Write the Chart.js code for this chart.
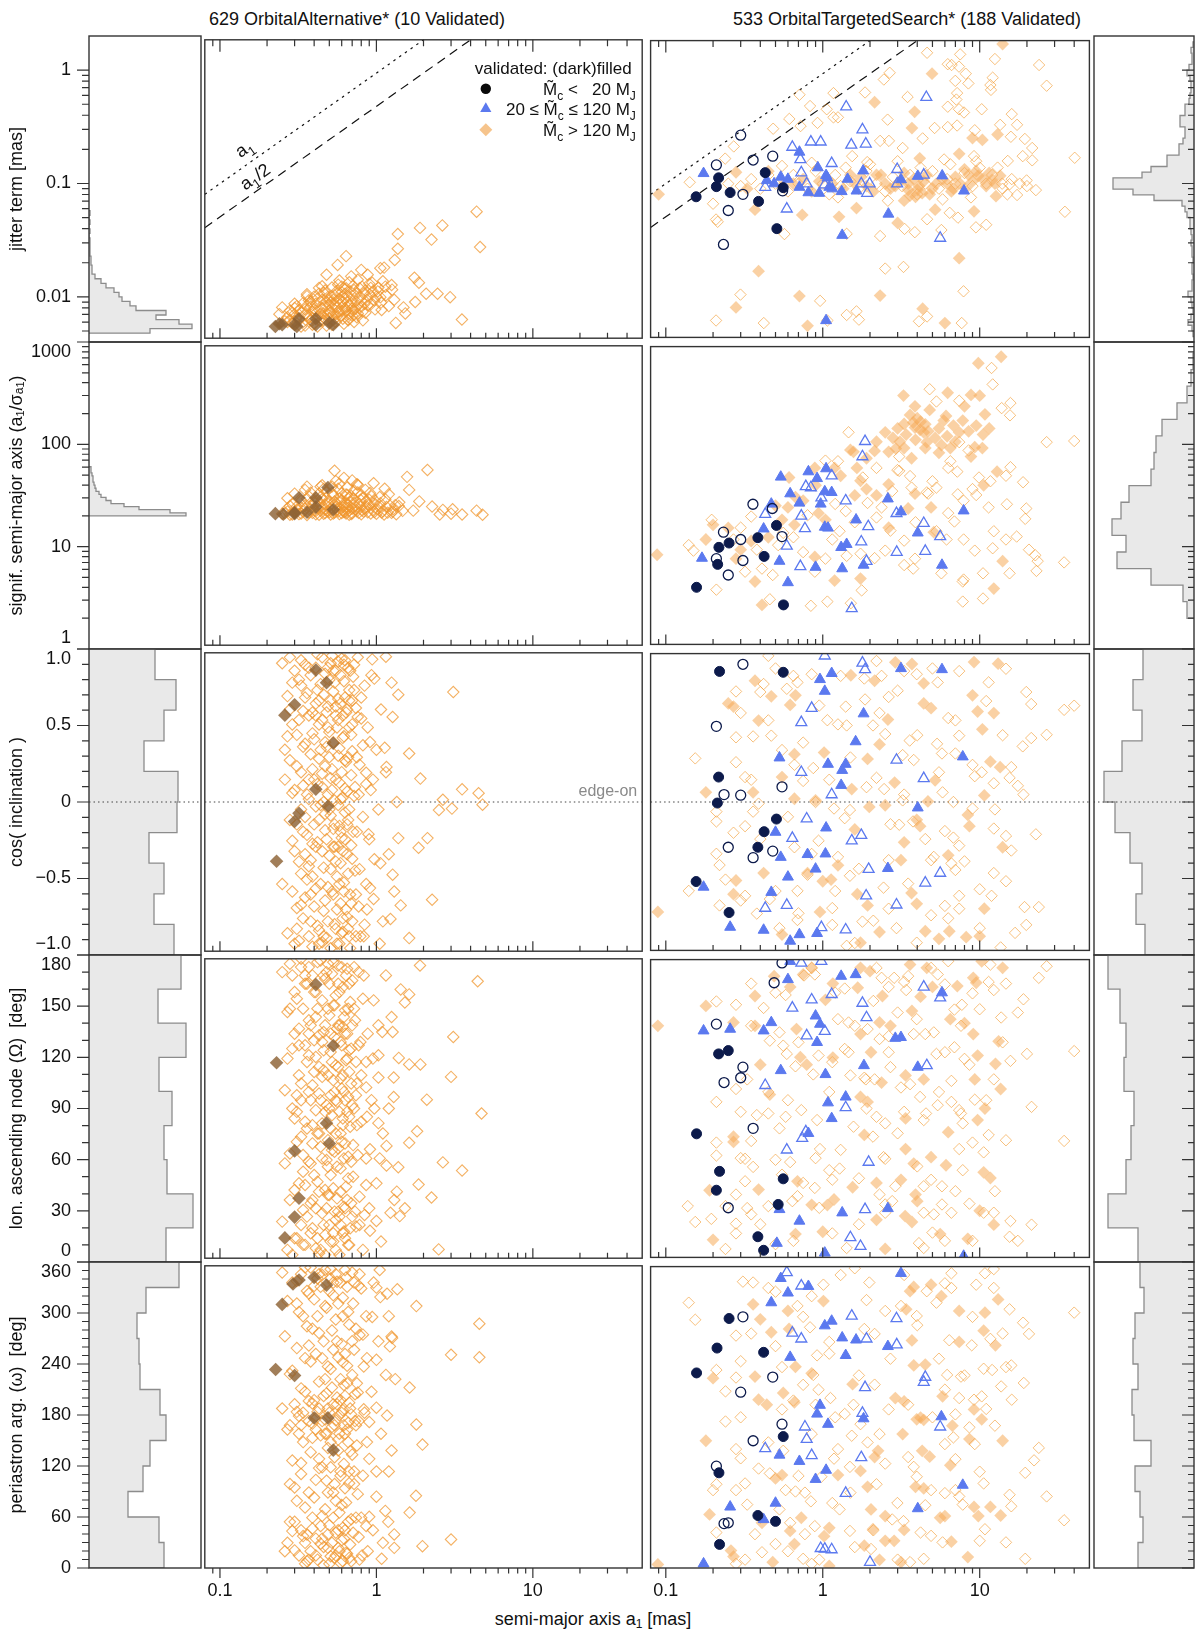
<!DOCTYPE html>
<html><head><meta charset="utf-8">
<script src="https://cdn.jsdelivr.net/npm/chart.js"></script>
<style>
html,body{margin:0;padding:0;background:#fff;}
body{position:relative;width:1200px;height:1640px;overflow:hidden;font-family:"Liberation Sans",Arial,Helvetica,sans-serif;color:#111;}
canvas{position:absolute;}
.ttl{position:absolute;font-size:18px;line-height:20px;white-space:nowrap;transform:translateX(-50%);}
.ttl sub{font-size:12px;vertical-align:-3px;line-height:0;}
</style></head><body>
<div class="ttl" style="left:357px;top:9px">629 OrbitalAlternative* (10 Validated)</div>
<div class="ttl" style="left:907px;top:9px">533 OrbitalTargetedSearch* (188 Validated)</div>
<div class="ttl" style="left:593px;top:1609px">semi-major axis a<sub>1</sub> [mas]</div>
<script>
const FONT = '"Liberation Sans", Arial, Helvetica, sans-serif';
// ---------------- tick labels ----------------
const xTickVals = [0.1, 1, 10];
const xTickLabels = ['0.1', '1', '10'];
const jitTickVals = [0.01, 0.1, 1];
const jitTickLabels = ['0.01', '0.1', '1'];
const sigTickVals = [1, 10, 100, 1000];
const sigTickLabels = ['1', '10', '100', '1000'];
const cosTickVals = [-1, -0.5, 0, 0.5, 1];
const cosTickLabels = ['\u22121.0', '\u22120.5', '0', '0.5', '1.0'];
const OmTickVals = [0, 30, 60, 90, 120, 150, 180];
const OmTickLabels = ['0', '30', '60', '90', '120', '150', '180'];
const omTickVals = [0, 60, 120, 180, 240, 300, 360];
const omTickLabels = ['0', '60', '120', '180', '240', '300', '360'];

// ---------------- histograms (counts per bin, bottom to top) ----------------
const hL1 = [61,103,90,67,77,47,41,33,30,25,17,12,6,3,3,2,2,1,1,1,1,0,1,0,1,0,1];
const binL1 = [-2.32, 0.04];
const hR1 = [1,2,6,3,1,2,3,6,2,2,1,2,2,1,2,2,3,2,3,4,4,7,9,12,40,61,81,81,52,43,27,27,15,15,11,9,9,14,14,9,9,5,4,3,3,4,7,5,2,2,3,1];
const binR1 = [-2.35, 0.05];
const hL2 = [97,81,50,35,22,17,12,10,7,6,5,4,4,3,2,2];
const binL2 = [1.301, 0.03];
const hR2 = [7,11,43,77,68,82,73,65,43,40,38,32,17,7,3,1];
const binR2 = [0.3, 0.162];
const hL3 = [85,65,75,60,88,89,55,75,87,66];
const hR3 = [49,58,52,64,79,90,72,52,61,51];
const bin3 = [-1, 0.2];
const hL4 = [77,104,78,75,83,70,97,69,92];
const hR4 = [56,86,68,63,60,70,68,74,86];
const bin4 = [0, 20];
const hL5 = [75,70,39,54,61,77,71,51,50,48,57,90];
const hR5 = [56,51,54,59,43,60,62,56,61,59,50,54];
const bin5 = [0, 30];

// ---------------- row 1: jitter ----------------
const L1_core = [[0.27,0.0062],[0.28,0.0071],[0.29,0.0055],[0.3,0.0066],[0.31,0.0078],[0.32,0.0059],[0.33,0.0069],[0.34,0.0083],[0.35,0.0052],[0.35,0.0073],[0.36,0.0064],[0.37,0.0088],[0.38,0.0058],[0.38,0.0077],[0.39,0.0069],[0.4,0.0095],[0.4,0.0054],[0.41,0.0082],[0.42,0.0063],[0.43,0.0101],[0.43,0.0072],[0.44,0.0057],[0.45,0.0089],[0.46,0.0067],[0.47,0.0078],[0.47,0.0108],[0.48,0.0052],[0.49,0.0094],[0.5,0.0071],[0.5,0.0061],[0.51,0.0084],[0.52,0.0115],[0.53,0.0065],[0.54,0.0098],[0.55,0.0076],[0.55,0.0056],[0.56,0.0087],[0.57,0.0122],[0.58,0.0069],[0.59,0.0081],[0.6,0.0104],[0.61,0.006],[0.62,0.0092],[0.63,0.0074],[0.64,0.0113],[0.65,0.0085],[0.66,0.0066],[0.67,0.0128],[0.68,0.0079],[0.7,0.0097],[0.71,0.0071],[0.72,0.0109],[0.74,0.0086],[0.75,0.0062],[0.76,0.0135],[0.78,0.0093],[0.8,0.0077],[0.81,0.0117],[0.83,0.0101],[0.85,0.0068],[0.87,0.0089],[0.9,0.0124],[0.92,0.0081],[0.95,0.0106],[0.98,0.0073],[1.0,0.0095],[1.03,0.0115],[1.07,0.0084],[1.1,0.0131],[1.15,0.0098],[1.2,0.0078],[1.25,0.0121],[1.3,0.0089],[0.33,0.0051],[0.42,0.0051],[0.52,0.0053],[0.62,0.0054],[0.72,0.0056],[0.82,0.0058],[0.3,0.0075],[0.45,0.0118],[0.58,0.0133],[0.69,0.0145],[0.88,0.015],[0.36,0.0096],[0.26,0.0057],[0.24,0.0066],[0.46,0.0058],[0.56,0.0063],[0.66,0.0059],[0.76,0.0067],[0.39,0.0061],[0.49,0.0066],[0.6,0.0071],[0.7,0.0064],[0.53,0.0089],[0.63,0.0101],[0.73,0.0074],[0.84,0.0082]];
const L1_more = [[0.28,0.0058],[0.29,0.0068],[0.31,0.0061],[0.32,0.0072],[0.34,0.0056],[0.35,0.0066],[0.36,0.0079],[0.37,0.0061],[0.38,0.0086],[0.39,0.0053],[0.41,0.0071],[0.42,0.0091],[0.44,0.0066],[0.45,0.0075],[0.46,0.0103],[0.47,0.006],[0.48,0.0085],[0.5,0.0079],[0.51,0.0068],[0.52,0.0096],[0.53,0.0058],[0.54,0.0082],[0.56,0.0107],[0.57,0.007],[0.58,0.0091],[0.6,0.0064],[0.61,0.0086],[0.62,0.0113],[0.64,0.0071],[0.65,0.0096],[0.66,0.0058],[0.68,0.0106],[0.69,0.0083],[0.71,0.0119],[0.72,0.0065],[0.74,0.0102],[0.76,0.0079],[0.78,0.0113],[0.8,0.0087],[0.82,0.007],[0.85,0.0108],[0.88,0.0079],[0.91,0.0099],[0.94,0.0127],[0.97,0.0088],[1.02,0.0106],[1.08,0.0072],[1.14,0.0117],[0.3,0.0057],[0.4,0.0074],[0.5,0.0088],[0.6,0.0117],[0.7,0.0074],[0.55,0.0066],[0.45,0.0063],[0.65,0.0077]];
const L1_out = [[4.37,0.0558],[4.6,0.0267],[1.9,0.0398],[2.64,0.0419],[2.25,0.0312],[1.37,0.035],[1.37,0.0258],[0.64,0.0221],[0.565,0.0184],[1.31,0.0204],[1.12,0.0174],[1.06,0.0172],[0.8,0.0166],[1.75,0.0141],[1.87,0.0127],[2.08,0.0101],[2.46,0.0101],[2.96,0.0094],[3.52,0.0059],[1.77,0.0085],[1.53,0.0067],[1.33,0.0055],[1.49,0.0076],[1.26,0.011],[1.06,0.0094],[0.92,0.0114],[0.48,0.015],[0.43,0.0114],[0.36,0.01],[0.3,0.0082],[0.25,0.0076],[0.27,0.0056]];
const L1_val = [[0.226,0.0051],[0.25,0.0053],[0.3,0.0053],[0.32,0.006],[0.41,0.006],[0.41,0.0053],[0.5,0.0055],[0.53,0.0053],[0.24,0.0054],[0.31,0.0051]];
const R1_open = [[4.62,1.55],[7.51,1.5],[12.5,1.36],[23.9,1.2],[6.26,1.22],[6.62,1.2],[7.38,1.16],[2.67,1.02],[2.45,0.885],[6.99,0.861],[8.15,1.0],[12.1,0.92],[8.47,0.816],[11.7,0.789],[26.7,0.778],[11.8,0.713],[1.17,0.666],[0.711,0.644],[1.86,0.675],[3.47,0.614],[7.18,0.666],[7.1,0.582],[0.83,0.508],[1.06,0.475],[1.17,0.401],[1.25,0.401],[2.59,0.382],[6.26,0.501],[7.38,0.475],[7.94,0.444],[10.3,0.475],[16.0,0.429],[5.16,0.321],[6.26,0.327],[7.18,0.338],[0.612,0.388],[0.722,0.334],[0.926,0.357],[0.483,0.316],[13.5,0.343],[17.3,0.343],[9.3,0.306],[15.8,0.267],[19.4,0.255],[21.6,0.211],[18.8,0.178],[21.6,0.163],[40.3,0.172],[2.32,0.245],[2.64,0.245],[4.33,0.258],[1.54,0.178],[1.92,0.157],[3.23,0.211],[5.93,0.166],[9.2,0.178],[15.1,0.161],[19.9,0.107],[13.9,0.1],[15.5,0.0987],[22.8,0.0874],[17.3,0.0789],[34.9,0.0555],[6.44,0.0543],[7.27,0.0491],[9.46,0.0401],[11.0,0.0423],[4.62,0.0475],[3.32,0.0388],[3.86,0.0362],[5.7,0.0379],[2.32,0.0334],[1.42,0.035],[0.57,0.0348],[0.209,0.0472],[0.214,0.045],[0.2,0.0657],[0.271,0.218],[0.239,0.169],[0.142,0.103],[0.299,0.0098],[0.962,0.0086],[2.5,0.0169],[3.27,0.0175],[7.89,0.0105],[1.42,0.0064],[1.64,0.0069],[1.7,0.0058],[4.62,0.0062],[4.1,0.0056],[7.68,0.0054],[0.209,0.0057],[0.421,0.0054],[1.07,0.0057],[0.25,0.1],[0.3,0.095],[0.35,0.11],[0.4,0.09],[0.45,0.12],[0.5,0.1],[0.6,0.085],[0.65,0.12],[0.7,0.1],[0.8,0.09],[0.9,0.13],[1.0,0.1],[1.1,0.08],[1.2,0.12],[1.3,0.095],[1.5,0.105],[1.7,0.09],[1.9,0.13],[2.2,0.1],[2.5,0.085],[2.8,0.115],[3.2,0.095],[3.6,0.12],[4.0,0.08],[4.5,0.1],[5,0.13],[5.5,0.09],[6.2,0.11],[7,0.1],[8,0.125],[9,0.095],[10,0.14],[11,0.1],[12,0.12],[14,0.09],[16,0.11],[18,0.1],[20,0.095],[0.55,0.145],[0.85,0.155],[1.4,0.14],[2.0,0.15],[3.0,0.16],[4.2,0.14],[6.5,0.15],[9.5,0.16],[13,0.14],[1.25,0.075],[2.6,0.07],[5.8,0.072],[8.8,0.075],[15,0.08]];
const R1_fill = [[0.09,0.08],[2.14,0.55],[4.97,1.0],[14,1.86],[3.85,0.45],[3.7,0.32],[13,0.28],[9.0,0.26],[10.4,0.25],[7.4,0.187],[4.15,0.17],[2.2,0.12],[3.5,0.088],[3.9,0.076],[3.3,0.07],[12.7,0.077],[9.2,0.056],[5.2,0.058],[1.64,0.06],[1.27,0.05],[0.74,0.052],[0.37,0.058],[0.28,0.127],[3.0,0.044],[7.4,0.021],[0.39,0.016],[0.71,0.0095],[2.32,0.0096],[0.28,0.0075],[4.33,0.0073],[6.0,0.0054],[0.8,0.0051],[2.5,0.1],[2.9,0.095],[4.4,0.105],[5.0,0.09],[6.2,0.1],[7.0,0.115],[8.5,0.12],[9.5,0.13],[10.5,0.11],[11.5,0.125],[8.0,0.135],[12.5,0.1],[1.9,0.095],[1.5,0.12],[0.95,0.105],[0.65,0.1],[0.33,0.09],[0.45,0.13],[3.3,0.125],[4.8,0.08],[6.8,0.09],[0.55,0.095],[0.75,0.11],[0.85,0.085],[1.15,0.1],[1.35,0.09],[1.6,0.1],[1.75,0.115],[2.1,0.085],[2.35,0.12],[2.7,0.09],[3.1,0.105],[3.5,0.1],[3.8,0.11],[4.1,0.095],[4.6,0.12],[5.3,0.1],[5.8,0.11],[6.6,0.085],[7.5,0.1],[8.2,0.092],[9.0,0.105],[9.8,0.118],[11,0.095],[12,0.108],[13.5,0.118],[4.0,0.088],[3.6,0.078],[4.3,0.082]];
const R1_blueO = [[1.41,0.5],[4.57,0.61],[1.79,0.31],[0.84,0.24],[0.97,0.24],[1.52,0.225],[1.88,0.23],[0.64,0.215],[0.72,0.166],[1.14,0.153],[0.73,0.126],[2.98,0.135],[4.4,0.12],[0.79,0.1],[1.03,0.098],[1.76,0.1],[1.99,0.1],[2.98,0.1],[0.43,0.093],[1.92,0.082],[0.59,0.059],[5.6,0.032]];
const R1_blueF = [[0.174,0.124],[0.71,0.194],[0.93,0.14],[1.05,0.119],[1.07,0.113],[0.44,0.107],[0.54,0.115],[0.6,0.11],[0.49,0.1],[0.71,0.093],[0.81,0.083],[0.95,0.082],[1.1,0.093],[1.15,0.09],[1.32,0.085],[1.44,0.11],[1.64,0.086],[1.81,0.131],[3.15,0.109],[4.03,0.117],[5.77,0.118],[7.94,0.086],[2.62,0.053],[1.33,0.034],[1.05,0.0057]];
const R1_navyO = [[0.30,0.276],[0.21,0.148],[0.36,0.164],[0.48,0.178],[0.31,0.08],[0.25,0.057],[0.233,0.028],[0.555,0.086]];
const R1_navyF = [[0.156,0.076],[0.21,0.094],[0.217,0.113],[0.257,0.083],[0.39,0.069],[0.43,0.126],[0.56,0.092],[0.51,0.039]];

// ---------------- row 2: significance ----------------
const L2_core = [[0.26,21],[0.27,23.5],[0.28,20.3],[0.29,26],[0.3,22],[0.31,24.5],[0.32,20.6],[0.33,28],[0.34,21.8],[0.35,25],[0.36,20.2],[0.37,31],[0.38,23],[0.39,21.2],[0.4,27],[0.41,20.5],[0.42,24],[0.43,33],[0.44,22.3],[0.45,29],[0.46,20.8],[0.47,25.5],[0.48,35],[0.49,22],[0.5,27.5],[0.51,20.4],[0.52,24.2],[0.53,31.5],[0.54,21.4],[0.55,26.5],[0.56,23],[0.57,37],[0.58,20.6],[0.6,28.5],[0.61,22.5],[0.62,25],[0.64,20.9],[0.65,32],[0.66,23.8],[0.68,27],[0.7,21],[0.71,29.5],[0.73,24.6],[0.75,22],[0.76,34],[0.78,26],[0.8,20.5],[0.82,30],[0.84,23.4],[0.86,27.8],[0.88,21.5],[0.9,25.5],[0.93,31],[0.95,22.7],[0.98,28],[1.0,20.8],[1.03,24.5],[1.06,26.5],[1.1,22],[1.14,29],[1.18,21.3],[1.22,25],[1.28,23],[1.34,20.5],[1.4,27],[1.47,22.2],[0.3,33],[0.35,36],[0.45,40],[0.55,44],[0.65,38],[0.75,41],[0.85,36],[0.5,21.5],[0.4,22.6],[0.6,21.1],[0.7,23.3],[0.33,23.8],[0.38,26.5],[0.44,30.5],[0.52,33.5],[0.58,29.5],[0.63,26.8],[0.69,31.2],[0.79,28.7],[0.91,33.5],[1.05,30.5],[1.2,32.5],[0.28,24.8],[0.43,25.8],[0.47,22.8],[0.62,21.6],[0.67,20.3],[0.81,22.4],[0.97,21.6],[1.12,20.4]];
const L2_more = [[0.27,21.8],[0.29,20.4],[0.31,22.8],[0.33,20.9],[0.35,23.2],[0.37,21.4],[0.39,24.8],[0.41,22.1],[0.43,20.3],[0.45,23.6],[0.47,21.1],[0.49,26.3],[0.51,23.1],[0.53,20.9],[0.55,24.2],[0.57,21.9],[0.59,27.2],[0.61,24.1],[0.63,21.6],[0.65,25.8],[0.67,22.4],[0.69,20.6],[0.72,26.7],[0.74,22.9],[0.77,21.2],[0.79,24.6],[0.83,21.8],[0.87,24.4],[0.92,20.9],[0.96,26.2],[1.01,23.1],[1.08,21.4],[1.16,24.3],[1.25,21.2],[1.32,25.3],[0.36,29.4],[0.42,27.8],[0.48,29.9],[0.54,27.5],[0.6,33.2],[0.66,29.3],[0.72,35.5],[0.8,32.2],[0.9,28.7],[0.38,33.8],[0.46,36.7],[0.52,38.9],[0.58,41.5],[0.7,44.8],[0.62,47.5]];
const L2_out = [[0.54,56],[2.12,57],[1.57,48.6],[1.62,36],[0.96,42],[1.13,37],[1.88,27.6],[2.27,24.5],[2.66,22.7],[3.07,23],[2.54,20.4],[3.0,20.8],[3.53,20.4],[4.37,22.3],[4.77,20.3],[1.39,24.8],[1.72,22.3],[1.27,21.8],[0.76,40.5],[0.64,32.4],[0.44,38.8],[0.36,38.8],[0.27,29.7],[0.25,20.8]];
const L2_val = [[0.226,20.8],[0.254,20.5],[0.3,21.3],[0.32,30],[0.41,30],[0.41,24.2],[0.49,38],[0.53,22.8],[0.3,20.8],[0.36,21.5]];
const R2_open = [[11.9,609],[12.1,416],[4.8,372],[5.3,280],[7.4,285],[13.8,240],[15.7,270],[15.6,203],[26.7,109],[40,112],[1.46,137],[2.99,57],[7.4,109],[6.3,60],[7.2,55],[9.9,48],[11.7,44],[15.7,61],[14.7,50],[18.9,43],[11.4,24],[14.9,25.8],[19.8,23.4],[19.5,18.4],[9.0,36.7],[7.25,32.5],[5.3,38],[4.6,34],[3.07,56],[3.6,49.6],[2.77,35],[2.37,24],[1.93,26.6],[1.4,22],[1.28,13.8],[1.15,11.4],[1.42,7.8],[1.74,8.2],[2.14,7.4],[2.5,8.8],[3.3,11.1],[3.87,7.3],[3.77,5.8],[3.3,6.3],[5.3,13.8],[6.15,11.4],[7.9,11.4],[9.3,8.8],[12.1,9.3],[12.3,13.8],[14.7,11.4],[17.2,12.2],[20.6,9.0],[22.6,7.9],[23.4,6.9],[34.5,6.7],[23,5.5],[15.5,5.2],[10.5,5.2],[7.8,4.3],[5.7,5.2],[7.8,2.7],[10.5,2.9],[7.9,4.5],[1.07,2.7],[0.84,2.45],[0.46,2.85],[1.77,3.5],[1.51,2.6],[0.21,3.56],[0.15,8.8],[0.14,10],[0.196,18],[0.35,19.4],[0.27,11.4],[0.32,5.4],[0.41,5.8],[0.48,5.0],[0.56,13.3],[0.75,8.5],[0.89,5.4],[1.04,7.3],[1.04,71],[1.25,70],[3.07,78],[3.68,38],[4.7,33],[6.3,21],[6.9,17.3],[7.9,28],[9.5,32],[0.3,15],[0.38,9],[0.52,10],[0.65,12],[0.8,20],[1.2,26],[1.6,17],[2.2,19],[2.7,14],[3.9,17],[5.0,44],[6.5,70],[8.5,90],[2.2,60],[1.8,48]];
const R2_fill = [[13.7,790],[9.8,680],[3.27,321],[6.25,343],[3.87,250],[8.8,326],[10,320],[3.3,166],[3.77,172],[4.17,145],[4.4,137],[3.87,153],[4.6,109],[3.68,75],[2.92,94],[5.7,102],[7.4,137],[9.3,97],[10.4,95],[8.8,78],[10.8,208],[6.1,200],[2.5,137],[2.63,87],[2.14,89],[1.57,87],[1.5,91],[1.65,60],[1.74,44.5],[2.2,31.7],[2.63,41],[12.9,55],[10.6,40],[3.87,33],[3.5,23.4],[4.9,24],[5.1,13.5],[2.63,15],[1.74,4.6],[1.19,4.4],[0.89,7.6],[0.66,16],[0.67,30.5],[0.61,48],[0.89,60],[1.19,60],[0.94,21],[1.04,18],[0.6,24],[0.55,18],[0.37,4.3],[0.41,2.5],[0.28,7.3],[0.25,14.9],[0.2,16],[0.18,11.4],[0.088,8.0],[12.3,3.65],[14,6.9],[1.9,36.7],[1.6,31.7],[4.0,190],[4.5,165],[5.2,120],[3.6,205],[4.8,230],[3.1,110],[6.8,160],[8.0,250],[3.0,150],[3.4,130],[3.9,115],[4.2,175],[4.7,140],[5.5,150],[5.9,180],[6.2,125],[7.0,110],[7.8,180],[8.5,140],[9.5,160],[10.5,130],[11.5,150],[4.5,95],[5.5,85],[6.5,95],[2.8,120],[3.3,95],[2.2,110],[1.9,75],[1.3,50],[0.9,40],[0.75,28],[0.5,25],[0.45,12],[0.35,11],[0.3,9]];
const R2_blueO = [[1.86,111],[1.79,78],[1.14,50],[0.78,39],[0.84,38],[0.98,30],[1.4,28],[0.43,20.5],[0.73,19.7],[0.77,14.7],[1.95,15.4],[4.4,16.6],[2.95,20.9],[5.6,12.2],[1.76,10.8],[0.59,9.8],[0.72,6.1],[1.9,6.9],[2.96,8.5],[4.5,8.7],[1.53,2.3]];
const R2_blueF = [[0.54,48.6],[0.81,55],[1.05,59],[0.92,47],[0.62,33],[0.71,26.6],[0.97,26],[1.03,34.6],[1.14,34],[1.03,15.2],[1.08,14.9],[0.42,14.6],[0.47,26],[1.63,18],[2.6,29.3],[3.15,21.7],[7.9,22.2],[1.31,9.5],[1.42,10.2],[4.03,13.3],[1.82,6.3],[1.33,5.8],[0.9,6.0],[0.53,6.9],[0.6,4.2],[0.17,7.4],[5.75,6.3]];
const R2_navyO = [[0.359,25.8],[0.477,23.4],[0.233,13.5],[0.3,11.4],[0.55,12.2],[0.21,7.3],[0.31,7.0],[0.25,5.0]];
const R2_navyF = [[0.157,3.76],[0.214,6.4],[0.218,9.5],[0.253,10.5],[0.386,11.9],[0.423,7.7],[0.507,15.8],[0.562,2.5]];

// ---------------- row 3: cos(inclination) ----------------
const L3_core = [[0.25,0.93],[0.27,0.71],[0.26,0.35],[0.28,-0.12],[0.25,-0.55],[0.27,-0.88],[0.29,0.52],[0.3,0.08],[0.28,0.97],[0.3,-0.33],[0.31,-0.71],[0.32,0.82],[0.31,0.24],[0.33,-0.05],[0.32,-0.93],[0.34,0.61],[0.33,-0.48],[0.35,0.39],[0.34,0.11],[0.36,-0.22],[0.35,-0.64],[0.37,0.9],[0.36,0.73],[0.38,-0.8],[0.37,0.02],[0.39,0.46],[0.38,-0.39],[0.4,0.15],[0.39,-0.97],[0.41,0.66],[0.4,-0.15],[0.42,0.99],[0.41,-0.58],[0.43,0.29],[0.42,-0.27],[0.44,0.79],[0.43,-0.86],[0.45,0.55],[0.44,-0.02],[0.46,-0.44],[0.45,0.19],[0.47,0.86],[0.46,-0.73],[0.48,0.37],[0.47,-0.19],[0.49,0.64],[0.48,-0.91],[0.5,-0.36],[0.49,0.05],[0.51,0.93],[0.5,0.47],[0.52,-0.6],[0.51,-0.09],[0.53,0.74],[0.52,0.22],[0.54,-0.82],[0.53,-0.3],[0.55,0.58],[0.54,0.01],[0.56,-0.5],[0.55,0.88],[0.57,0.31],[0.56,-0.95],[0.58,-0.16],[0.57,0.69],[0.59,-0.68],[0.58,0.13],[0.6,0.96],[0.59,-0.41],[0.61,0.43],[0.6,-0.24],[0.62,0.81],[0.61,-0.87],[0.63,0.09],[0.62,-0.54],[0.64,0.6],[0.63,-0.07],[0.65,-0.77],[0.64,0.27],[0.66,0.9],[0.65,-0.35],[0.67,0.5],[0.66,-0.12],[0.68,-0.62],[0.67,0.75],[0.69,0.18],[0.68,-0.98],[0.7,0.34],[0.69,-0.29],[0.71,0.84],[0.7,-0.8],[0.72,0.04],[0.73,-0.46],[0.74,0.63],[0.75,-0.2],[0.76,0.97],[0.77,-0.7],[0.78,0.25],[0.79,-0.9],[0.8,0.56],[0.82,-0.1],[0.84,0.78],[0.86,-0.55],[0.26,0.15],[0.29,-0.26],[0.31,0.45],[0.33,-0.69],[0.35,0.92],[0.37,-0.43],[0.39,0.22],[0.41,-0.03],[0.43,0.68],[0.45,-0.94],[0.47,0.4],[0.49,-0.57],[0.51,0.16],[0.53,-0.18],[0.55,-0.85],[0.57,0.55],[0.59,0.85],[0.61,-0.33],[0.63,0.7],[0.65,0.07],[0.67,-0.9],[0.69,0.45]];
const L3_more = [[0.27,0.44],[0.28,0.62],[0.29,-0.6],[0.3,0.88],[0.3,-0.95],[0.31,-0.15],[0.32,0.55],[0.32,-0.4],[0.33,0.2],[0.33,0.95],[0.34,-0.78],[0.34,0.37],[0.35,-0.1],[0.35,0.7],[0.36,-0.52],[0.36,0.05],[0.37,0.58],[0.37,-0.9],[0.38,0.32],[0.38,0.85],[0.39,-0.28],[0.39,0.6],[0.4,-0.7],[0.4,0.42],[0.41,0.9],[0.41,-0.3],[0.42,0.12],[0.42,-0.83],[0.43,0.52],[0.43,-0.12],[0.44,-0.55],[0.44,0.35],[0.45,0.97],[0.45,-0.33],[0.46,0.72],[0.46,0.0],[0.47,-0.66],[0.47,0.24],[0.48,0.6],[0.48,-0.25],[0.49,0.9],[0.49,-0.8],[0.5,0.3],[0.5,-0.05],[0.51,-0.45],[0.51,0.68],[0.52,0.08],[0.52,0.98],[0.53,-0.62],[0.53,0.4],[0.54,-0.15],[0.54,0.8],[0.55,-0.4],[0.55,0.15],[0.56,0.5],[0.56,-0.72],[0.57,-0.02],[0.57,0.94],[0.58,-0.55],[0.58,0.36],[0.59,0.66],[0.59,-0.2],[0.6,0.2],[0.6,-0.88],[0.61,0.58],[0.61,0.03],[0.62,-0.6],[0.62,0.44],[0.63,-0.25],[0.63,0.95],[0.64,-0.72],[0.65,0.62],[0.66,0.3],[0.66,-0.48],[0.67,-0.05],[0.68,0.88],[0.69,-0.68],[0.7,0.52],[0.71,-0.2],[0.72,0.75],[0.73,0.1],[0.74,-0.9],[0.28,0.28],[0.29,0.06],[0.31,-0.85],[0.33,0.78],[0.35,-0.35],[0.37,0.15],[0.39,-0.5],[0.41,0.58],[0.43,-0.95],[0.45,0.1],[0.47,-0.08],[0.49,0.5],[0.51,-0.98],[0.53,0.88],[0.55,0.64],[0.57,-0.3],[0.59,0.02],[0.61,-0.78],[0.63,0.28],[0.65,-0.15],[0.67,0.68],[0.7,-0.38],[0.29,0.8],[0.34,-0.2],[0.38,-0.62],[0.42,0.75],[0.46,-0.9],[0.5,0.82],[0.54,-0.3],[0.58,-0.95],[0.62,0.92],[0.66,-0.85]];
const L3_out = [[3.1,0.737],[1.38,0.719],[1.27,0.57],[1.62,0.325],[1.91,0.157],[3.53,0.085],[4.5,0.059],[4.77,-0.018],[3.04,-0.044],[2.51,-0.054],[2.66,0.015],[2.12,-0.242],[1.86,-0.307],[2.27,-0.655],[1.62,-0.912],[1.43,-0.693],[1.23,-0.784],[1.38,-0.242],[1.35,0],[1.16,0.235],[1.13,0.363],[1.15,0.974],[0.94,0.956],[0.97,0.827],[0.76,0.57],[0.91,0.402],[0.86,0.196],[0.92,0.08],[0.89,-0.216],[0.97,-0.384],[0.91,-0.577],[0.84,-0.822],[1.06,-0.41],[1.27,-0.487],[0.72,0.92],[0.75,0.3],[0.78,-0.45],[0.8,0.7],[0.83,-0.9],[0.86,0.12],[0.88,0.5],[0.9,-0.25],[0.93,0.85],[0.96,-0.65],[1.0,0.35],[1.03,-0.05],[1.07,0.62],[1.1,-0.8],[1.15,0.2],[1.2,-0.35],[1.25,0.8],[1.3,-0.6],[0.74,-0.62],[0.77,0.05],[0.82,0.38],[0.87,-0.72],[0.95,0.15],[1.05,-0.95],[0.7,0.68]];
const L3_val = [[0.41,0.884],[0.48,0.8],[0.3,0.652],[0.26,0.582],[0.53,0.394],[0.41,0.085],[0.49,-0.028],[0.32,-0.075],[0.3,-0.131],[0.23,-0.397]];
const R3_open = [[0.154,0.294],[0.28,0.745],[0.28,0.268],[0.32,0.168],[0.28,0.436],[0.36,0.442],[0.42,0.795],[0.4,0.741],[0.45,0.985],[0.59,0.763],[0.69,0.806],[0.85,0.861],[1.84,0.832],[2.37,0.85],[2.63,0.708],[1.86,0.691],[1.4,0.643],[1.07,0.551],[1.25,0.523],[1.42,0.516],[2.09,0.516],[3.3,0.882],[3.97,0.861],[5.4,0.806],[7.4,0.882],[11.4,0.806],[14.7,0.898],[19.8,0.741],[21.3,0.66],[34.5,0.621],[40,0.649],[26.7,0.453],[21.3,0.431],[18.8,0.375],[15.9,0.235],[15.5,0.163],[19,0.05],[17.5,0.109],[12.3,0.126],[10.3,0.2],[9.3,0.174],[7.4,0.447],[6.3,0.566],[5.35,0.392],[5.75,0.327],[7.0,0.327],[3.8,0.283],[3.23,0.316],[3.58,0.414],[2.5,0.458],[2.2,0.163],[2.46,0.087],[3.23,0.011],[5.8,0.065],[6.8,0],[9.0,-0.044],[1.49,-0.054],[1.38,-0.109],[1.18,-0.044],[0.87,0.229],[0.75,0.142],[0.66,0.251],[0.47,0.447],[0.39,-0.011],[0.36,-0.065],[0.32,-0.163],[0.27,-0.207],[0.21,-0.131],[0.21,-0.065],[0.21,-0.349],[0.22,-0.425],[0.24,-0.523],[0.14,-0.599],[0.3,-0.664],[0.22,-0.697],[0.32,-0.632],[0.38,-0.752],[0.46,-0.654],[0.53,-0.85],[0.69,-0.599],[0.8,-0.49],[0.66,-0.305],[0.94,-0.261],[1.25,-0.37],[1.49,-0.497],[2.44,-0.577],[2.63,-0.719],[1.15,-0.715],[1.15,-0.828],[1.79,-0.806],[2.95,-0.85],[2.63,-0.392],[3.07,-0.153],[3.76,-0.131],[4.9,-0.392],[5.1,-0.37],[6.0,-0.196],[6.8,-0.24],[7.4,-0.294],[6.6,-0.414],[7.0,-0.458],[7.4,-0.632],[7.4,-0.719],[10.0,-0.588],[11.9,-0.632],[12.3,-0.479],[14.7,-0.534],[12.3,-0.179],[14.7,-0.229],[15.9,-0.327],[22.8,-0.218],[19.3,-0.708],[23.8,-0.708],[19.8,-0.828],[16.8,-0.882],[13.6,-0.98],[6.3,-0.784],[4.9,-0.763],[3.97,-0.948],[1.42,-0.969],[0.69,-0.795],[0.3,0.6],[0.35,0.15],[0.4,-0.25],[0.45,0.55],[0.5,-0.6],[0.55,0.35],[0.6,-0.1],[0.65,0.85],[0.7,-0.75],[0.75,0.4],[0.85,-0.35],[0.95,0.65],[1.1,0.15],[1.2,-0.6],[1.3,0.85],[1.5,0.3],[1.7,-0.45],[1.9,0.1],[2.1,-0.8],[2.3,0.6],[2.7,-0.15],[3.0,0.75],[3.5,-0.55],[4.0,0.45],[4.5,-0.25],[5.0,0.9],[5.5,0.2],[6.0,-0.7],[7.0,0.55],[8.0,-0.4],[9.0,0.25],[10,-0.85],[11,0.68],[12.5,-0.05],[14,0.45],[3.3,0.05],[2.2,0.95],[1.6,-0.95],[0.9,0.0],[0.5,0.9]];
const R3_fill = [[0.089,-0.741],[0.37,0.817],[0.47,0.712],[0.39,0.549],[0.25,0.664],[0.27,0.643],[0.62,0.654],[0.67,0.719],[1.51,0.854],[2.14,0.817],[2.9,0.941],[3.7,0.93],[4.4,0.8],[4.9,0.632],[4.4,0.664],[9.2,0.943],[13.1,0.932],[9.0,0.719],[9.7,0.61],[12.3,0.599],[10.4,0.49],[2.6,0.556],[2.3,0.388],[1.93,0.29],[0.66,0.322],[1.02,0.333],[0.55,0.168],[0.36,0.065],[0.18,0.065],[0.66,0.022],[0.9,0.011],[1.53,0.087],[1.98,-0.033],[2.5,-0.022],[2.87,0.131],[5.2,0.146],[4.68,0.004],[3.97,-0.12],[4.17,-0.163],[8.6,-0.163],[8.4,-0.087],[11.7,0.272],[13.5,0.235],[10.7,0.044],[14,-0.305],[6.3,-0.359],[3.15,-0.392],[3.3,-0.272],[1.6,-0.185],[1.25,-0.427],[0.8,-0.479],[1.0,-0.534],[1.13,-0.523],[0.42,-0.479],[0.28,-0.529],[0.27,-0.621],[1.66,-0.621],[1.93,-0.697],[3.68,-0.614],[3.97,-0.686],[10.7,-0.719],[0.96,-0.741],[2.3,-0.876],[4.5,-0.871],[6.4,-0.871],[5.5,-0.922],[8.2,-0.911],[10,-0.904],[0.55,-0.893],[1.74,-0.948]];
const R3_blueO = [[1.03,0.985],[1.79,0.937],[1.86,0.893],[0.85,0.632],[0.73,0.536],[0.73,0.2],[1.14,0.05],[2.95,0.283],[4.4,0.159],[0.79,-0.113],[0.64,-0.244],[1.53,-0.261],[1.76,-0.224],[1.96,-0.453],[5.6,-0.479],[4.5,-0.545],[1.89,-0.632],[2.95,-0.693],[0.43,-0.715],[0.59,-0.695],[0.98,-0.845],[1.4,-0.861]];
const R3_blueF = [[1.14,0.867],[0.96,0.826],[1.03,0.747],[3.15,0.9],[5.75,0.893],[1.82,0.595],[1.62,0.407],[0.53,0.298],[1.08,0.255],[1.4,0.255],[1.33,0.214],[1.31,0.113],[7.8,0.305],[4.03,-0.039],[1.05,-0.174],[0.5,-0.203],[0.8,-0.353],[1.04,-0.349],[0.54,-0.372],[0.9,-0.451],[0.6,-0.505],[2.6,-0.447],[0.47,-0.608],[0.174,-0.573],[0.257,-0.843],[0.42,-0.863],[0.71,-0.893],[0.92,-0.885],[0.62,-0.937]];
const R3_navyO = [[0.31,0.928],[0.21,0.51],[0.235,0.05],[0.3,0.046],[0.55,0.102],[0.25,-0.305],[0.36,-0.375],[0.48,-0.331]];
const R3_navyF = [[0.22,0.88],[0.56,0.874],[0.217,0.168],[0.213,-0.007],[0.507,-0.115],[0.423,-0.2],[0.386,-0.305],[0.156,-0.536],[0.253,-0.745]];

// ---------------- row 4: longitude of ascending node ----------------
const L4_core = [[0.25,172],[0.27,148],[0.26,101],[0.28,63],[0.25,22],[0.27,5],[0.29,126],[0.3,84],[0.28,177],[0.3,41],[0.31,156],[0.32,110],[0.31,12],[0.33,73],[0.32,138],[0.34,29],[0.33,95],[0.35,165],[0.34,52],[0.36,118],[0.35,8],[0.37,143],[0.36,78],[0.38,33],[0.37,175],[0.39,104],[0.38,57],[0.4,131],[0.39,18],[0.41,89],[0.4,160],[0.42,46],[0.41,121],[0.43,3],[0.42,150],[0.44,67],[0.43,99],[0.45,27],[0.44,179],[0.46,136],[0.45,81],[0.47,14],[0.46,113],[0.48,59],[0.47,168],[0.49,38],[0.48,92],[0.5,146],[0.49,71],[0.51,124],[0.5,20],[0.52,171],[0.51,50],[0.53,107],[0.52,86],[0.54,133],[0.53,10],[0.55,158],[0.54,64],[0.56,36],[0.55,116],[0.57,176],[0.56,94],[0.58,25],[0.57,140],[0.59,75],[0.58,2],[0.6,128],[0.59,54],[0.61,163],[0.6,102],[0.62,31],[0.61,84],[0.63,149],[0.62,16],[0.64,119],[0.63,69],[0.65,174],[0.64,43],[0.66,97],[0.65,135],[0.67,8],[0.66,61],[0.68,154],[0.67,112],[0.69,33],[0.68,79],[0.7,167],[0.69,126],[0.71,49],[0.72,90],[0.73,143],[0.74,19],[0.75,105],[0.76,62],[0.77,172],[0.78,37],[0.79,130],[0.8,82],[0.82,156],[0.84,26],[0.86,118],[0.26,57],[0.29,170],[0.31,88],[0.33,180],[0.35,44],[0.37,122],[0.39,69],[0.41,6],[0.43,134],[0.45,109],[0.47,41],[0.49,177],[0.51,98],[0.53,152],[0.55,23],[0.57,66],[0.59,108],[0.61,139],[0.63,12],[0.65,88],[0.67,165],[0.69,58]];
const L4_more = [[0.27,120],[0.28,35],[0.29,90],[0.3,160],[0.3,12],[0.31,70],[0.32,128],[0.32,45],[0.33,175],[0.33,105],[0.34,8],[0.34,150],[0.35,82],[0.35,128],[0.36,25],[0.36,165],[0.37,58],[0.37,100],[0.38,140],[0.38,15],[0.39,80],[0.39,170],[0.4,50],[0.4,112],[0.41,145],[0.41,30],[0.42,75],[0.42,178],[0.43,115],[0.43,40],[0.44,5],[0.44,95],[0.45,155],[0.45,60],[0.46,125],[0.46,20],[0.47,88],[0.47,140],[0.48,172],[0.48,30],[0.49,110],[0.49,55],[0.5,90],[0.5,165],[0.51,10],[0.51,135],[0.52,65],[0.52,118],[0.53,42],[0.53,178],[0.54,100],[0.54,152],[0.55,75],[0.55,5],[0.56,138],[0.56,55],[0.57,115],[0.57,28],[0.58,88],[0.58,160],[0.59,130],[0.59,40],[0.6,70],[0.6,175],[0.61,15],[0.61,110],[0.62,145],[0.62,60],[0.63,95],[0.63,30],[0.64,170],[0.65,120],[0.66,48],[0.66,150],[0.67,85],[0.68,18],[0.69,105],[0.7,140],[0.71,68],[0.72,175],[0.73,28],[0.74,118],[0.28,150],[0.29,2],[0.31,98],[0.33,20],[0.35,170],[0.37,135],[0.39,35],[0.41,160],[0.43,75],[0.45,130],[0.47,2],[0.49,150],[0.51,78],[0.53,15],[0.55,95],[0.57,165],[0.59,20],[0.61,80],[0.63,135],[0.65,35],[0.67,125],[0.7,92],[0.3,135],[0.34,62],[0.38,95],[0.42,12],[0.46,170],[0.5,38],[0.54,28],[0.58,140],[0.62,100],[0.66,8]];
const L4_out = [[4.44,166.5],[1.9,176],[3.1,133],[4.7,87],[3.0,109],[2.1,95.3],[2.66,57.6],[3.53,52.7],[2.25,36.5],[2.5,5.3],[1.82,76.3],[1.86,44.3],[1.62,69.4],[1.52,30],[1.41,25.3],[1.52,153.7],[1.62,158.6],[1.43,161.6],[1.27,136],[1.39,120.4],[1.62,116.5],[1.91,116.5],[1.29,108.6],[1.29,96.9],[1.16,67.5],[1.16,55.7],[1.38,54.7],[1.35,40],[1.23,27.3],[1.09,136],[1.03,122],[1.03,108.6],[0.86,102.7],[0.97,90],[1.03,81.2],[0.91,65.5],[0.86,44],[1.0,22.4],[0.91,16.5],[0.72,150],[0.75,80],[0.78,20],[0.8,110],[0.83,170],[0.86,60],[0.88,135],[0.9,30],[0.93,95],[0.96,155],[1.0,45],[1.03,140],[1.07,10],[1.1,75],[1.15,170],[1.2,90],[1.25,145],[1.3,35],[0.74,98],[0.77,128],[0.82,5],[0.87,85],[0.95,120],[1.05,60],[0.7,25]];
const L4_val = [[0.41,164.5],[0.53,127.8],[0.23,117.5],[0.48,81.2],[0.5,69],[0.3,64.5],[0.32,36],[0.3,24.7],[0.26,12.2]];
const R4_open = [[26.7,176],[23.8,169],[19,156],[17.5,148],[13.7,145],[20,123],[40,124.7],[15.7,118.8],[12.3,107.6],[21.4,91],[34.5,70.4],[14.7,70.8],[10.6,63.5],[11.4,74],[9.3,95.3],[7.6,87],[6.6,94],[6.0,124],[6.9,127],[5.3,123],[6.6,106.7],[8.6,116.5],[7.6,140],[6.9,149.8],[7.7,152.7],[9.0,159.6],[11.4,166.5],[12.3,161.6],[14.7,165.5],[11.7,177],[6.3,179],[4.9,175],[5.4,171],[3.3,166.5],[2.85,169],[2.37,169],[2.63,163.5],[3.4,161.6],[3.0,148],[3.97,144],[3.8,135],[5.1,136],[2.63,133.7],[2.3,132],[1.93,138],[1.46,142],[1.25,144],[1.38,126],[1.46,124],[1.15,118],[0.94,122],[0.87,110.6],[0.67,115.5],[0.59,123],[0.56,128],[0.46,131],[0.53,136],[0.35,165.5],[0.28,152.7],[0.21,154.7],[0.42,150.8],[0.58,158.6],[0.76,170.4],[0.89,171],[1.38,162.5],[0.33,107.6],[0.28,101.8],[0.21,94],[0.3,88],[0.38,86],[0.45,87],[0.53,78],[0.58,85],[0.73,89],[0.92,83],[0.96,65.5],[0.62,57.6],[0.5,59],[0.36,54.7],[0.32,59.6],[0.21,61.6],[0.21,69.4],[0.35,70.4],[0.32,46],[0.28,38],[0.24,31],[0.33,29.8],[0.35,26],[0.45,31],[0.138,31],[0.154,21.4],[0.195,23.3],[0.28,20.4],[0.28,14.5],[0.24,5.1],[0.64,34],[0.69,37],[0.89,42],[1.1,52.7],[1.28,53.7],[1.15,47],[1.7,47.8],[2.44,60.6],[2.5,59.6],[2.09,73],[1.57,79],[2.2,85],[2.5,81],[1.88,107.6],[1.84,108.6],[2.14,107.6],[2.63,124],[3.15,102.7],[3.6,104.7],[4.17,97],[4.55,87],[4.4,83],[5.4,92],[7.4,89],[7.8,81],[7.4,65.5],[9.0,69.4],[7.8,52.7],[5.75,43],[4.9,46.9],[4.4,43],[2.9,43],[2.5,32],[2.77,34],[2.5,27],[4.4,27],[5.1,26],[5.75,32],[6.6,27],[8.6,32.5],[10.6,27],[12.3,27],[15.7,22],[21.4,19.8],[15.5,12.5],[17.5,10],[6.0,10],[4.4,5.7],[4.1,8.6],[1.42,5.7],[1.15,14.5],[0.3,60],[0.35,140],[0.4,20],[0.45,100],[0.5,160],[0.55,50],[0.6,95],[0.65,10],[0.7,130],[0.75,45],[0.85,175],[0.95,30],[1.1,100],[1.2,160],[1.3,65],[1.5,110],[1.7,20],[1.9,90],[2.1,155],[2.3,38],[2.7,115],[3.0,75],[3.5,170],[4.0,55],[4.5,135],[5.0,15],[5.5,100],[6.0,165],[7.0,40],[8.0,120],[9.0,10],[10,150],[11,95],[12.5,40],[14,130],[3.3,88],[2.2,175],[1.6,140],[0.9,60],[0.5,8]];
const R4_fill = [[0.089,140],[0.18,152],[0.37,158],[0.49,170],[0.75,171],[0.85,175],[1.74,175],[2.0,173],[3.6,177],[4.6,175],[10.3,179],[14,175],[9.1,169],[9.5,166],[7.2,164],[5.0,163.5],[4.2,157.6],[2.4,158],[1.67,163],[0.62,163.5],[1.04,155.7],[1.16,165.5],[0.37,140],[0.27,142],[0.68,138],[1.74,135],[2.3,142],[2.7,140],[3.7,149],[6.5,144],[8.0,141.6],[9.1,135],[13.2,130.6],[9.7,122],[12.6,117],[13.6,101.8],[9.3,107.6],[4.4,107.6],[2.03,124],[1.16,120.8],[0.79,116.5],[0.72,121],[0.4,116.5],[0.46,98.4],[1.74,97],[1.93,94],[2.37,105.7],[3.37,110],[3.37,84],[6.3,75.7],[9.7,83],[10.8,90],[1.84,74],[3.37,65.5],[3.8,56.7],[4.9,60.6],[6.1,55.7],[10.6,51.4],[11.7,48],[3.15,46.9],[2.2,45],[1.55,42.4],[0.85,31.8],[1.07,31.6],[1.18,35],[3.9,38],[4.0,34],[3.35,25],[2.2,22.7],[3.7,21.4],[10.0,28.2],[12.3,19.8],[8.4,11.2],[5.6,14.1],[2.5,5.1],[0.67,14.1],[0.2,10.6],[0.27,73],[0.27,69.8],[0.19,40.6],[0.39,41],[0.69,46],[1.0,15.5]];
const R4_blueO = [[0.73,178],[0.98,179],[1.14,159],[0.85,155.7],[0.64,150.8],[1.79,153.7],[1.9,145],[0.79,134],[1.03,136.7],[4.4,163.5],[5.6,157],[4.6,116],[0.43,104],[1.4,90.6],[0.78,76],[0.74,72],[0.59,65],[1.96,57.6],[1.86,29],[1.5,12],[1.74,6.7]];
const R4_blueF = [[0.62,179],[0.6,168],[1.31,170],[1.62,171],[5.75,160],[0.9,146],[0.96,141],[0.47,142],[0.42,137],[0.257,138],[0.174,137],[0.92,130],[2.9,132.5],[3.15,133],[1.04,110.6],[1.83,116],[4.03,115],[0.54,113],[1.4,97],[1.08,93.5],[1.14,84],[0.81,75],[1.33,27],[2.6,29.6],[0.53,29],[0.71,22],[0.51,8.6],[1.03,2.7],[7.9,0.8]];
const R4_navyO = [[0.55,178],[0.49,166],[0.21,141],[0.31,115],[0.3,108.6],[0.235,105.7],[0.36,78],[0.25,30]];
const R4_navyF = [[0.217,123],[0.25,125],[0.157,74.7],[0.22,52],[0.21,40.6],[0.56,47.5],[0.52,32],[0.386,12.5],[0.42,4.3]];

// ---------------- row 5: argument of periastron ----------------
const L5_core = [[0.25,352],[0.27,318],[0.26,276],[0.28,231],[0.25,190],[0.27,165],[0.29,128],[0.3,96],[0.28,55],[0.3,21],[0.31,342],[0.32,305],[0.31,262],[0.33,214],[0.32,181],[0.34,150],[0.33,112],[0.35,72],[0.34,38],[0.36,8],[0.35,358],[0.37,327],[0.36,288],[0.38,246],[0.37,199],[0.39,172],[0.38,138],[0.4,84],[0.39,47],[0.41,15],[0.4,336],[0.42,300],[0.41,255],[0.43,222],[0.42,186],[0.44,158],[0.43,119],[0.45,62],[0.44,29],[0.46,3],[0.45,349],[0.47,312],[0.46,270],[0.48,208],[0.47,177],[0.49,143],[0.48,104],[0.5,51],[0.49,24],[0.51,356],[0.5,330],[0.52,283],[0.51,237],[0.53,195],[0.52,168],[0.54,132],[0.53,90],[0.55,42],[0.54,12],[0.56,341],[0.55,296],[0.57,251],[0.56,203],[0.58,182],[0.57,153],[0.59,115],[0.58,66],[0.6,33],[0.59,6],[0.61,322],[0.6,267],[0.62,218],[0.61,188],[0.63,160],[0.62,124],[0.64,78],[0.63,45],[0.65,17],[0.64,346],[0.66,305],[0.65,241],[0.67,197],[0.66,173],[0.68,139],[0.67,101],[0.69,58],[0.68,28],[0.7,352],[0.71,315],[0.72,260],[0.73,207],[0.74,170],[0.75,146],[0.76,88],[0.77,37],[0.78,10],[0.8,333],[0.82,278],[0.84,185],[0.86,50],[0.26,20],[0.29,44],[0.31,186],[0.33,170],[0.35,30],[0.37,10],[0.39,196],[0.41,178],[0.43,350],[0.45,35],[0.47,160],[0.49,190],[0.51,14],[0.53,340],[0.55,176],[0.57,24],[0.59,200],[0.61,48],[0.63,355],[0.65,165],[0.67,12],[0.69,183]];
const L5_more = [[0.27,30],[0.28,170],[0.29,340],[0.3,55],[0.3,195],[0.31,315],[0.32,15],[0.32,160],[0.33,350],[0.33,45],[0.34,185],[0.34,300],[0.35,5],[0.35,210],[0.36,330],[0.36,40],[0.37,175],[0.37,265],[0.38,20],[0.38,358],[0.39,155],[0.39,60],[0.4,200],[0.4,320],[0.41,35],[0.41,165],[0.42,345],[0.42,10],[0.43,190],[0.43,280],[0.44,50],[0.44,335],[0.45,175],[0.45,120],[0.46,25],[0.46,205],[0.47,355],[0.47,70],[0.48,160],[0.48,310],[0.49,40],[0.49,240],[0.5,185],[0.5,5],[0.51,345],[0.51,150],[0.52,30],[0.52,215],[0.53,325],[0.53,60],[0.54,170],[0.54,100],[0.55,15],[0.55,350],[0.56,195],[0.56,270],[0.57,45],[0.57,315],[0.58,160],[0.58,20],[0.59,225],[0.59,340],[0.6,185],[0.6,75],[0.61,8],[0.61,300],[0.62,170],[0.62,35],[0.63,255],[0.63,205],[0.64,18],[0.65,335],[0.66,150],[0.66,55],[0.67,290],[0.68,190],[0.69,8],[0.7,135],[0.71,42],[0.72,340],[0.73,175],[0.74,60],[0.28,100],[0.29,235],[0.31,80],[0.33,125],[0.35,250],[0.37,90],[0.39,285],[0.41,105],[0.43,130],[0.45,250],[0.47,225],[0.49,90],[0.51,120],[0.53,260],[0.55,80],[0.57,140],[0.59,110],[0.61,245],[0.63,95],[0.65,220],[0.67,115],[0.7,270]];
const L5_out = [[4.55,291],[4.55,251],[3.0,254],[3.0,34],[1.97,26],[1.63,66],[1.79,86],[1.19,55],[1.97,147],[1.8,171],[1.63,215],[1.36,332],[1.0,334],[1.26,274],[1.8,312],[1.3,24],[1.0,115],[1.2,115],[1.14,68],[0.9,61],[1.08,11],[0.81,15],[0.87,150],[0.83,189],[0.9,174],[1.0,191],[1.17,181.6],[1.32,225],[1.0,248],[1.22,264],[1.17,326.7],[1.06,322.7],[0.94,299],[1.25,275.7],[0.78,277.6],[0.77,336.5],[0.76,209],[0.72,115],[0.72,100],[0.75,220],[0.78,350],[0.8,60],[0.83,240],[0.86,300],[0.88,20],[0.9,130],[0.93,210],[0.96,340],[1.0,85],[1.03,270],[1.07,160],[1.1,30],[1.15,230],[1.2,300],[1.25,140],[1.3,40],[0.74,285],[0.77,175],[0.82,110],[0.87,250],[0.95,45],[1.05,355],[0.7,230]];
const L5_val = [[0.293,338.4],[0.32,343],[0.4,346],[0.48,337],[0.25,314],[0.227,236.5],[0.3,229.4],[0.4,178.8],[0.49,178.8],[0.53,140.4]];
const R5_open = [[0.14,316.9],[0.154,296.5],[0.31,342],[0.36,341],[0.45,334.5],[0.21,236.5],[0.24,211],[0.28,227.5],[0.3,247],[0.28,277.6],[0.24,175],[0.28,142],[0.3,131],[0.2,93],[0.21,100],[0.28,93],[0.32,101],[0.33,75.7],[0.37,40.4],[0.28,5],[0.32,10],[0.41,18.8],[0.21,42.4],[0.5,28.6],[0.53,70],[0.46,113],[0.39,118.8],[0.55,189.4],[0.56,140],[0.58,93],[0.67,91.4],[0.77,90],[0.84,79.6],[0.62,54],[0.77,40.4],[0.89,50],[0.75,11],[0.85,5],[1.49,44.3],[1.28,70],[1.15,77.6],[0.98,109],[1.18,130.6],[1.49,120.8],[1.25,142],[1.53,158],[1.38,184],[1.12,203],[0.94,213],[0.75,218.8],[0.87,230.6],[0.92,254],[1.1,256],[0.83,287.5],[0.69,313],[0.85,324.7],[1.01,338.4],[1.6,358],[1.98,341],[1.84,285.5],[2.14,279.6],[2.5,307],[3.15,313],[3.97,301],[4.6,330.6],[5.3,316.9],[6.6,334.5],[6.6,352],[9.5,338.4],[10.8,352],[12.3,357],[12.3,334.5],[15.5,309],[18.9,293],[20.6,279.6],[11.7,273.7],[8.9,266],[6.4,272],[6.2,230.6],[7.6,228.6],[10.6,238],[14.7,240],[12,236.5],[19.1,221],[13.7,216.9],[16,201],[10.3,205],[7.0,183.5],[8.6,168],[6.8,156],[6.0,148],[9.3,148],[23.8,143.5],[22.2,128.6],[19.5,113.7],[10.6,101],[7.0,93],[7.4,85.5],[7.8,75.7],[6.0,89.4],[4.9,93],[3.8,120.8],[3.5,132.5],[3.97,109],[2.99,77.6],[2.77,58],[3.27,56],[4.2,42.4],[4.9,38.4],[5.8,30.6],[4.4,11],[3.6,7],[2.03,22.7],[14.7,30.6],[15.5,87.5],[15.9,73.7],[26.7,85.5],[34.5,57],[19.5,11],[10.8,46.3],[10,32.5],[2.63,189.4],[1.93,150],[2.5,124.7],[1.74,171.8],[1.57,195],[2.14,219],[6.0,213],[7.4,203],[9.2,201],[15.9,242],[40,305],[0.3,180],[0.35,280],[0.4,60],[0.45,150],[0.5,330],[0.55,240],[0.6,20],[0.65,200],[0.7,110],[0.75,300],[0.85,160],[0.95,10],[1.1,270],[1.2,180],[1.3,350],[1.5,90],[1.7,230],[1.9,320],[2.1,45],[2.3,160],[2.7,250],[3.0,10],[3.5,195],[4.0,290],[4.5,75],[5.0,180],[5.5,250],[6.0,340],[7.0,130],[8.0,230],[9.0,300],[10,115],[11,190],[12.5,170],[14,280],[3.3,350],[2.2,100],[1.6,25],[0.9,195],[0.5,265]];
const R5_fill = [[0.089,4.3],[0.18,152],[0.2,226.7],[0.37,228.6],[0.36,315],[0.39,201],[0.44,195],[0.4,297],[0.47,281.6],[0.61,285.5],[0.67,240.4],[0.66,198],[1.01,318.8],[0.85,232.5],[0.56,209],[0.6,307],[0.5,107],[0.55,111],[0.73,60],[0.62,44.3],[0.66,28.6],[1.1,48],[1.02,38],[1.1,2.4],[0.48,7],[0.26,20.8],[0.27,13.7],[0.19,64],[0.41,54],[1.25,111],[1.55,219.6],[1.74,116],[1.93,97],[2.25,140],[2.14,132.5],[2.09,46.3],[2.5,32.5],[2.85,32.5],[3.3,45.5],[3.15,7],[2.3,9.8],[1.84,26.7],[2.03,70],[2.5,62],[2.9,203],[3.3,199],[3.23,160],[3.7,271.8],[3.8,242],[4.5,243],[3.4,309],[3.6,330.6],[3.8,335.7],[4.9,338.4],[5.7,324.7],[7.4,307],[10.8,305],[10.6,283.5],[12.6,266],[7.4,270],[3.97,177.6],[4.4,177],[4.2,179.6],[5.8,205],[9.2,189.4],[10.3,177.6],[8.6,154],[14,152],[4.3,140],[4.8,133],[6.5,122.7],[3.9,97],[4.4,95],[9.2,73],[9.8,62],[13.6,62.7],[11.7,73],[5.6,60],[6.0,62],[6.6,31.4],[8.4,13],[13.1,320.8],[6.7,170]];
const R5_blueO = [[0.59,353],[0.73,337],[1.53,301],[2.95,298],[0.64,280.8],[0.73,273.7],[1.9,273.7],[2.96,266.7],[1.86,215.7],[4.5,228],[4.4,222],[1.79,185],[0.77,168.6],[5.6,168.6],[0.79,153.7],[0.43,142.7],[0.85,134.5],[1.76,132],[1.4,89.4],[0.97,23.5],[1.03,22.7],[1.14,22],[2.0,7]];
const R5_blueF = [[0.54,346],[0.81,336.5],[0.6,328.6],[0.47,317],[3.15,352],[1.03,289.4],[1.14,295],[1.33,275],[1.63,272.5],[2.6,264.7],[1.4,254],[0.62,251.8],[0.96,194.5],[0.92,184],[1.08,171.8],[1.82,178.4],[5.7,180.8],[0.53,135],[0.71,127.5],[1.05,116.9],[0.9,106],[7.8,99],[0.257,73],[0.5,77.6],[0.42,58],[4.03,71],[0.174,5.1]];
const R5_navyO = [[0.31,300],[0.48,228],[0.3,210],[0.55,171.8],[0.36,152],[0.21,121.6],[0.235,53],[0.25,54]];
const R5_navyF = [[0.253,298],[0.212,262.7],[0.42,257.6],[0.157,233],[0.56,157],[0.218,113.7],[0.386,62.7],[0.5,55.7],[0.22,28.2]];

// reference lines / labels
const diagRatios = [1, 0.5];
const diagLabels = [{t:'a', s:'1', r:'', x:0.144, y:0.205}, {t:'a', s:'1', r:'/2', x:0.169, y:0.114}];

// ---------------- layout (page pixels) ----------------
const COLS = [89, 201, 646, 1094, 1194];
const ROWS = [36, 342, 649, 955, 1262, 1568];
const M = 3;
const XMIN = 0.08, XMAX = 50;
const HL_MAX = 112, HR_MAX = 100;

const ROWCFG = [
  {type:'logarithmic', min:0.004, max:2, tv:jitTickVals, tl:jitTickLabels, title:'jitter term [mas]', top:null, bot:null},
  {type:'logarithmic', min:1, max:1000, tv:sigTickVals, tl:sigTickLabels, title:'signif. semi-major axis (a\u2081/\u03c3\u2090\u2081)', top:'1000', bot:'1'},
  {type:'linear', min:-1, max:1, tv:cosTickVals, tl:cosTickLabels, minorStep:0.1, title:'cos( inclination )', top:'1.0', bot:'\u22121.0'},
  {type:'linear', min:0, max:180, tv:OmTickVals, tl:OmTickLabels, minorStep:10, title:'lon. ascending node (\u03a9)  [deg]', top:'180', bot:'0'},
  {type:'linear', min:0, max:360, tv:omTickVals, tl:omTickLabels, minorStep:10, title:'periastron arg. (\u03c9)  [deg]', top:'360', bot:null}
];
const ROWSETS = [
  {L:[L1_core.concat(L1_more, L1_out), L1_val], R:[R1_open,R1_fill,R1_blueO,R1_blueF,R1_navyO,R1_navyF], hL:hL1, hR:hR1, bL:binL1, bR:binR1, log:true},
  {L:[L2_core.concat(L2_more, L2_out), L2_val], R:[R2_open,R2_fill,R2_blueO,R2_blueF,R2_navyO,R2_navyF], hL:hL2, hR:hR2, bL:binL2, bR:binR2, log:true},
  {L:[L3_core.concat(L3_more, L3_out), L3_val], R:[R3_open,R3_fill,R3_blueO,R3_blueF,R3_navyO,R3_navyF], hL:hL3, hR:hR3, bL:bin3, bR:bin3, log:false},
  {L:[L4_core.concat(L4_more, L4_out), L4_val], R:[R4_open,R4_fill,R4_blueO,R4_blueF,R4_navyO,R4_navyF], hL:hL4, hR:hR4, bL:bin4, bR:bin4, log:false},
  {L:[L5_core.concat(L5_more, L5_out), L5_val], R:[R5_open,R5_fill,R5_blueO,R5_blueF,R5_navyO,R5_navyF], hL:hL5, hR:hR5, bL:bin5, bR:bin5, log:false}
];

// ---------------- styles ----------------
const ST = {
  open:  {pointStyle:'rectRot', pointRadius:5.7, pointBorderWidth:1, pointBorderColor:'rgba(243,156,52,0.64)', pointBackgroundColor:'rgba(255,255,255,0)'},
  openL: {pointStyle:'rectRot', pointRadius:5.7, pointBorderWidth:1.1, pointBorderColor:'rgba(240,150,44,0.74)', pointBackgroundColor:'rgba(255,255,255,0)'},
  fill:  {pointStyle:'rectRot', pointRadius:6.4, pointBorderWidth:0, pointBorderColor:'rgba(0,0,0,0)', pointBackgroundColor:'rgba(245,172,90,0.55)'},
  brown: {pointStyle:'rectRot', pointRadius:6.8, pointBorderWidth:0, pointBorderColor:'rgba(0,0,0,0)', pointBackgroundColor:'rgba(140,98,52,0.82)'},
  navyF: {pointStyle:'circle', pointRadius:5, pointBorderWidth:1, pointBorderColor:'#0c1a4b', pointBackgroundColor:'#0c1a4b'},
  navyO: {pointStyle:'circle', pointRadius:5, pointBorderWidth:1.3, pointBorderColor:'#0c1a4b', pointBackgroundColor:'rgba(255,255,255,0)'},
  blueF: {pointStyle:'triangle', pointRadius:6.3, pointBorderWidth:1, pointBorderColor:'#5b79ef', pointBackgroundColor:'#5b79ef'},
  blueO: {pointStyle:'triangle', pointRadius:6.3, pointBorderWidth:1.3, pointBorderColor:'#5b79ef', pointBackgroundColor:'rgba(255,255,255,0)'}
};
const P = a => a.map(p => ({x:p[0], y:p[1]}));
const ds = (arr, st) => Object.assign({data:P(arr), showLine:false, pointHoverRadius:0}, st);

function minorList(cfg, majors) {
  const out = [];
  if (cfg.type === 'logarithmic') {
    for (let e = Math.floor(Math.log10(cfg.min)) - 1; e <= Math.ceil(Math.log10(cfg.max)); e++) {
      for (let m = 2; m <= 9; m++) {
        const v = m * Math.pow(10, e);
        if (v > cfg.min * 1.0001 && v < cfg.max * 0.9999) out.push(v);
      }
    }
  } else {
    const n = Math.round((cfg.max - cfg.min) / cfg.minorStep);
    for (let i = 0; i <= n; i++) {
      const v = cfg.min + i * cfg.minorStep;
      if (!majors.some(m => Math.abs(m - v) < 1e-6)) out.push(v);
    }
  }
  return out;
}
const xCfg = {type:'logarithmic', min:XMIN, max:XMAX};
const xMinors = minorList(xCfg, xTickVals);

function histPoly(counts, bin, isLog) {
  const edge = k => isLog ? Math.pow(10, bin[0] + k * bin[1]) : bin[0] + k * bin[1];
  const pts = [{x:0, y:edge(0)}];
  counts.forEach((c, k) => { pts.push({x:c, y:edge(k)}); pts.push({x:c, y:edge(k + 1)}); });
  pts.push({x:0, y:edge(counts.length)});
  return pts;
}

// ---------------- plugins ----------------
const framePlugin = {
  id: 'frame',
  afterDraw(chart, args, o) {
    const {ctx, chartArea: a} = chart;
    ctx.save();
    ctx.strokeStyle = '#333'; ctx.lineWidth = 1.4;
    ctx.strokeRect(a.left, a.top, a.right - a.left, a.bottom - a.top);
    ctx.lineWidth = 1.2;
    ctx.beginPath();
    if (o.kind === 'scatter') {
      const xs = chart.scales.x;
      const seg = (v, len, y, dir) => { const p = xs.getPixelForValue(v); ctx.moveTo(p, y); ctx.lineTo(p, y + dir * len); };
      const dir = o.row === 4 ? 1 : -1;
      xTickVals.forEach(v => seg(v, 10, a.bottom, dir));
      xMinors.forEach(v => seg(v, 5.5, a.bottom, dir));
      if (o.row === 0) {
        xTickVals.forEach(v => seg(v, 12, a.top, 1));
        xMinors.forEach(v => seg(v, 6.5, a.top, 1));
      }
    } else {
      const ys = chart.scales.y;
      const cfg = ROWCFG[o.row];
      const x0 = o.kind === 'histL' ? a.left : a.right;
      const seg = (v, len) => { const p = ys.getPixelForValue(v); ctx.moveTo(x0, p); ctx.lineTo(x0 - len, p); };
      cfg.tv.forEach(v => seg(v, 12));
      minorList(cfg, cfg.tv).forEach(v => seg(v, o.kind === 'histL' ? 7 : 6));
    }
    ctx.stroke();
    ctx.restore();
  }
};

const edgeLabelPlugin = {
  id: 'edgeLabels',
  beforeDraw(chart, args, o) {
    const s = chart.scales.y;
    if (!s || typeof s.getLabelItems !== 'function') return;
    try {
      const a = chart.chartArea;
      const items = s.getLabelItems(a);
      items.forEach(it => {
        const lbl = Array.isArray(it.label) ? it.label[0] : it.label;
        if (!it.options || !it.options.translation) return;
        if (o.top && lbl === o.top) { it.options.translation = [it.options.translation[0], a.top + 1]; it.options.textBaseline = 'top'; }
        if (o.bot && lbl === o.bot) { it.options.translation = [it.options.translation[0], a.bottom - 6]; it.options.textBaseline = 'alphabetic'; }
      });
    } catch (e) {}
  }
};

function drawRich(ctx, segs, x, y, align, mainPx, subPx) {
  let w = 0;
  segs.forEach(s => { ctx.font = (s.sub ? subPx : mainPx) + 'px ' + FONT; w += ctx.measureText(s.t).width; });
  let cx = align === 'right' ? x - w : (align === 'center' ? x - w / 2 : x);
  ctx.textAlign = 'left';
  segs.forEach(s => {
    ctx.font = (s.sub ? subPx : mainPx) + 'px ' + FONT;
    ctx.fillText(s.t, cx, y + (s.sub ? Math.round(subPx * 0.42) : 0));
    cx += ctx.measureText(s.t).width;
  });
}

const annoPlugin = {
  id: 'anno',
  afterDraw(chart, args, o) {
    const {ctx, chartArea: a} = chart;
    const xs = chart.scales.x, ys = chart.scales.y;
    ctx.save();
    ctx.fillStyle = '#111';
    ctx.textBaseline = 'alphabetic';
    if (o.legend) {
      ctx.font = '17px ' + FONT; ctx.textAlign = 'left';
      ctx.fillText('validated: (dark)filled', a.left + 270, a.top + 34);
      const sx = a.left + 281, rx = a.left + 431;
      const rowsY = [a.top + 49, a.top + 69, a.top + 90];
      ctx.fillStyle = '#0a0a0a';
      ctx.beginPath(); ctx.arc(sx, rowsY[0], 5.2, 0, Math.PI * 2); ctx.fill();
      ctx.fillStyle = '#5b79ef';
      ctx.beginPath(); ctx.moveTo(sx, rowsY[1] - 6.5); ctx.lineTo(sx + 5.6, rowsY[1] + 3.3); ctx.lineTo(sx - 5.6, rowsY[1] + 3.3); ctx.closePath(); ctx.fill();
      ctx.fillStyle = 'rgba(246,196,140,1)';
      ctx.beginPath(); ctx.moveTo(sx, rowsY[2] - 6.5); ctx.lineTo(sx + 6.5, rowsY[2]); ctx.lineTo(sx, rowsY[2] + 6.5); ctx.lineTo(sx - 6.5, rowsY[2]); ctx.closePath(); ctx.fill();
      ctx.fillStyle = '#111';
      const Mt = 'M\u0303';
      drawRich(ctx, [{t:Mt},{t:'c',sub:1},{t:' <   20 M'},{t:'J',sub:1}], rx, rowsY[0] + 6, 'right', 17, 12);
      drawRich(ctx, [{t:'20 \u2264 ' + Mt},{t:'c',sub:1},{t:' \u2264 120 M'},{t:'J',sub:1}], rx, rowsY[1] + 6, 'right', 17, 12);
      drawRich(ctx, [{t:Mt},{t:'c',sub:1},{t:' > 120 M'},{t:'J',sub:1}], rx, rowsY[2] + 6, 'right', 17, 12);
    }
    if (o.diag) {
      const ang = Math.atan2(ys.getPixelForValue(1) - ys.getPixelForValue(0.1), xs.getPixelForValue(1) - xs.getPixelForValue(0.1));
      diagLabels.forEach(l => {
        ctx.save();
        ctx.translate(xs.getPixelForValue(l.x), ys.getPixelForValue(l.y));
        ctx.rotate(ang);
        const segs = [{t:l.t},{t:l.s,sub:1}];
        if (l.r) segs.push({t:l.r});
        drawRich(ctx, segs, 0, 5, 'center', 18, 13);
        ctx.restore();
      });
    }
    if (o.edge) {
      ctx.fillStyle = '#8a8a8a'; ctx.font = '16px ' + FONT; ctx.textAlign = 'right';
      ctx.fillText('edge-on', a.right - 5, ys.getPixelForValue(0) - 6);
    }
    ctx.restore();
  }
};

Chart.defaults.font.family = FONT;

function canvasAt(x, y, w, h) {
  const c = document.createElement('canvas');
  c.width = w; c.height = h;
  c.style.left = x + 'px'; c.style.top = y + 'px';
  c.style.width = w + 'px'; c.style.height = h + 'px';
  document.body.appendChild(c);
  return c;
}
const baseOpts = () => ({responsive:false, animation:false, events:[], maintainAspectRatio:false});

function edgeLine(x0, x1) {
  return {data:[{x:x0, y:0},{x:x1, y:0}], showLine:true, pointRadius:0, borderColor:'#444', borderWidth:1, borderDash:[1.5, 3], fill:false};
}

// ---------------- build charts ----------------
for (let r = 0; r < 5; r++) {
  const cfg = ROWCFG[r], set = ROWSETS[r];
  const top = ROWS[r], h = ROWS[r + 1] - ROWS[r];
  const bottomExtra = r === 4 ? 50 : 0;

  [0, 1].forEach(side => {
    const left = COLS[1 + side], w = COLS[2 + side] - left;
    const cv = canvasAt(left - M, top - M, w + 2 * M, h + M + (bottomExtra || M));
    let dsets;
    if (side === 0) {
      dsets = [ds(set.L[1], ST.brown), ds(set.L[0], ST.openL)];
    } else {
      const [o, f, bo, bf, no, nf] = set.R;
      dsets = [ds(nf, ST.navyF), ds(no, ST.navyO), ds(bf, ST.blueF), ds(bo, ST.blueO), ds(f, ST.fill), ds(o, ST.open)];
    }
    if (r === 0) {
      diagRatios.forEach((q, i) => dsets.push({data:[{x:XMIN, y:XMIN * q},{x:XMAX, y:XMAX * q}], showLine:true, pointRadius:0, borderColor:'#111', borderWidth:1.2, borderDash: i === 0 ? [2.5, 4.5] : [9, 6], fill:false}));
    }
    if (r === 2) dsets.push(edgeLine(XMIN, XMAX));
    new Chart(cv, {
      type: 'scatter',
      data: {datasets: dsets},
      options: Object.assign(baseOpts(), {
        layout: {padding: {left:M, right:M, top:M, bottom: bottomExtra ? 0 : M}},
        plugins: {legend:{display:false}, tooltip:{enabled:false}, colors:{enabled:false},
          frame:{kind:'scatter', row:r},
          anno:{legend: r === 0 && side === 0, diag: r === 0 && side === 0, edge: r === 2 && side === 0}},
        scales: {
          x: {type:'logarithmic', min:XMIN, max:XMAX, position:'bottom', display: r === 4,
              grid:{display:false, drawTicks:false}, border:{display:false},
              afterBuildTicks: s => { s.ticks = xTickVals.map(v => ({value:v})); },
              ticks:{autoSkip:false, maxRotation:0, padding:12, color:'#111', font:{size:18, family:FONT},
                     callback: (v, i) => xTickLabels[i]},
              afterFit: s => { s.height = bottomExtra; s.paddingLeft = 0; s.paddingRight = 0; }},
          y: {type:cfg.type, min:cfg.min, max:cfg.max, display:false}
        }
      }),
      plugins: [framePlugin, annoPlugin]
    });
  });

  {
    const cv = canvasAt(0, top - M, COLS[1] + M, h + M + (r === 4 ? 14 : M));
    const dsets = [{data: histPoly(set.hL, set.bL, set.log), showLine:true, fill:'shape', backgroundColor:'#e9e9e9', borderColor:'#8c8c8c', borderWidth:1.3, pointRadius:0}];
    if (r === 2) dsets.unshift(edgeLine(0, HL_MAX));
    new Chart(cv, {
      type: 'scatter',
      data: {datasets: dsets},
      options: Object.assign(baseOpts(), {
        layout: {padding: {left:0, right:M, top:M, bottom: r === 4 ? 14 : M}},
        plugins: {legend:{display:false}, tooltip:{enabled:false}, colors:{enabled:false},
          frame:{kind:'histL', row:r}, edgeLabels:{top:cfg.top, bot:cfg.bot}},
        scales: {
          x: {type:'linear', min:0, max:HL_MAX, display:false},
          y: {type:cfg.type, min:cfg.min, max:cfg.max, position:'left',
              grid:{display:false, drawTicks:false}, border:{display:false},
              afterBuildTicks: s => { s.ticks = cfg.tv.map(v => ({value:v})); },
              ticks:{autoSkip:false, padding:18, color:'#111', font:{size:18, family:FONT}, callback:(v, i) => cfg.tl[i]},
              title:{display:true, text:cfg.title, color:'#111', font:{size:18, family:FONT}, padding:{top:6, bottom:0}},
              afterFit: s => { s.width = COLS[0]; s.paddingTop = 0; s.paddingBottom = 0; }}
        }
      }),
      plugins: [edgeLabelPlugin, framePlugin]
    });
  }

  {
    const left = COLS[3], w = COLS[4] - COLS[3];
    const cv = canvasAt(left - M, top - M, w + 2 * M, h + 2 * M);
    const dsets = [{data: histPoly(set.hR, set.bR, set.log), showLine:true, fill:'shape', backgroundColor:'#e9e9e9', borderColor:'#8c8c8c', borderWidth:1.3, pointRadius:0}];
    if (r === 2) dsets.unshift(edgeLine(0, HR_MAX));
    new Chart(cv, {
      type: 'scatter',
      data: {datasets: dsets},
      options: Object.assign(baseOpts(), {
        layout: {padding: M},
        plugins: {legend:{display:false}, tooltip:{enabled:false}, colors:{enabled:false}, frame:{kind:'histR', row:r}},
        scales: {
          x: {type:'linear', min:0, max:HR_MAX, reverse:true, display:false},
          y: {type:cfg.type, min:cfg.min, max:cfg.max, display:false}
        }
      }),
      plugins: [framePlugin]
    });
  }
}
</script>
</body></html>
